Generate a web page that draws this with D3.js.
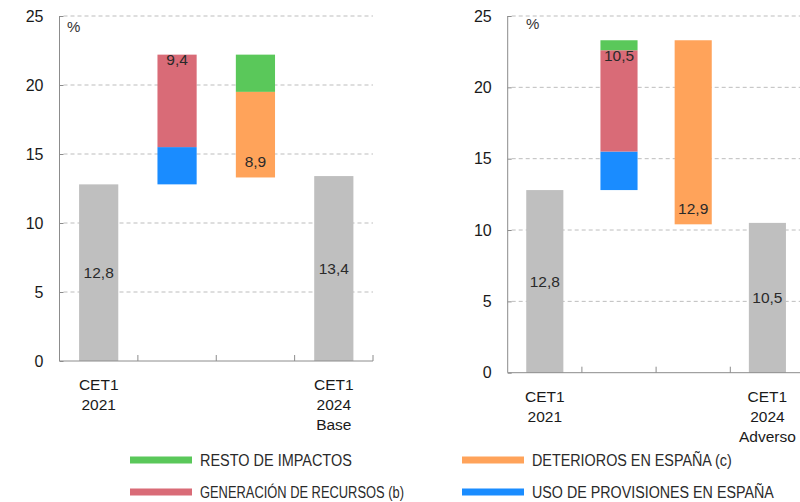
<!DOCTYPE html>
<html>
<head>
<meta charset="utf-8">
<script src="https://cdn.jsdelivr.net/npm/d3@7"></script>
<style>
  html, body { margin: 0; padding: 0; background: #fff; }
  svg { display: block; }
  text { font-family: "Liberation Sans", Arial, Helvetica, sans-serif; }
</style>
</head>
<body>
<svg id="chart" width="800" height="502"></svg>
<script>
// Scenario names and x-axis tick labels (lines split by "\n")
const scenarios = ["Base", "Adverso"];
const tickLabels = [
  ["CET1\n2021", "", "", "CET1\n2024\nBase"],
  ["CET1\n2021", "", "", "CET1\n2024\nAdverso"]
];
const yTicks = [0, 5, 10, 15, 20, 25];

// CET1 ratio (%) at start and end of the horizon, per scenario
const cet1Start = [12.8, 12.8];
const cet1End = [13.4, 10.5];

// Contributions (pp), in waterfall order; positives rise, negatives fall
const usoProvisiones = [2.7, 2.7];
const generacionRecursos = [6.7, 7.1];
const restoImpactos = [-2.7, 0.7];
const deterioros = [-6.2, -12.9];

const seriesNames = [
  "USO DE PROVISIONES EN ESPAÑA",
  "GENERACIÓN DE RECURSOS (b)",
  "RESTO DE IMPACTOS",
  "DETERIOROS EN ESPAÑA (c)"
];
const seriesValues = [usoProvisiones, generacionRecursos, restoImpactos, deterioros];
const seriesColors = ["#1a8cff", "#d96b77", "#5ac85a", "#ffa35a"];
const totalColor = "#bfbfbf";

// Legend layout: series index per row/column
const legendOrder = [[2, 3], [1, 0]];

const svg = d3.select("#chart");
svg.append("rect").attr("width", 800).attr("height", 502).attr("fill", "#fff");

const fmt = v => d3.format(".1f")(v).replace(".", ",");

// Panel geometry
const panels = [
  { x0: 59.5, x1: 373, y0: 361, y1: 16, pctX: 67, pctY: 27 },
  { x0: 507.7, x1: 804.5, y0: 372.7, y1: 16, pctX: 526, pctY: 24 }
];

panels.forEach((p, si) => {
  const g = svg.append("g");
  const x = d3.scaleBand().domain(d3.range(4)).range([p.x0, p.x1])
    .paddingInner(0.5).paddingOuter(0.25);
  const y = d3.scaleLinear().domain([0, 25]).range([p.y0, p.y1]);
  const step = x.step();

  // dashed gridlines
  g.append("g").selectAll("line").data(yTicks.filter(d => d > 0)).join("line")
    .attr("x1", p.x0 + 4).attr("x2", Math.min(p.x1, 800))
    .attr("y1", d => y(d)).attr("y2", d => y(d))
    .attr("stroke", "#bdbdbd").attr("stroke-width", 1)
    .attr("stroke-dasharray", "4,3");

  // waterfall segments
  let running = cet1Start[si];
  const segs = [];
  seriesValues.forEach((vals, k) => {
    const v = vals[si];
    const col = v >= 0 ? 1 : 2;
    segs.push({ col, a: running, b: running + v, color: seriesColors[k] });
    running += v;
  });

  // totals
  const totals = [
    { col: 0, v: cet1Start[si] },
    { col: 3, v: cet1End[si] }
  ];
  g.append("g").selectAll("rect").data(totals).join("rect")
    .attr("x", d => x(d.col)).attr("width", x.bandwidth())
    .attr("y", d => y(d.v)).attr("height", d => y(0) - y(d.v))
    .attr("fill", totalColor);

  g.append("g").selectAll("rect").data(segs).join("rect")
    .attr("x", d => x(d.col)).attr("width", x.bandwidth())
    .attr("y", d => y(Math.max(d.a, d.b)))
    .attr("height", d => Math.abs(y(d.a) - y(d.b)))
    .attr("fill", d => d.color);

  // value labels
  const lab = g.append("g").attr("font-size", 15.5).attr("fill", "#2a2a2a")
    .attr("text-anchor", "middle");
  totals.forEach(d => {
    lab.append("text").attr("x", x(d.col) + x.bandwidth() / 2)
      .attr("y", y(d.v / 2)).attr("dy", "0.35em").text(fmt(d.v));
  });
  const rise = d3.sum(segs.filter(s => s.col === 1), s => s.b - s.a);
  const fall = -d3.sum(segs.filter(s => s.col === 2), s => s.b - s.a);
  const genTop = cet1Start[si] + usoProvisiones[si] + generacionRecursos[si];
  lab.append("text").attr("x", x(1) + x.bandwidth() / 2)
    .attr("y", y(genTop) + 5).attr("dy", "0.35em").text(fmt(rise));
  lab.append("text").attr("x", x(2) + x.bandwidth() / 2)
    .attr("y", y(running) - 16).attr("dy", "0.35em").text(fmt(fall));

  // y axis
  const yAxis = d3.axisLeft(y).tickValues(yTicks).tickSize(-4).tickPadding(16)
    .tickFormat(d3.format("d"));
  const ya = g.append("g").attr("transform", `translate(${p.x0},0)`).call(yAxis);
  ya.select(".domain").attr("stroke", "#8c8c8c").attr("d", `M0,${p.y1}V${p.y0}`);
  ya.selectAll(".tick line").attr("stroke", "#8c8c8c");
  ya.selectAll(".tick text").attr("font-size", 16).attr("fill", "#1a1a1a")
    .attr("font-family", "'Liberation Sans', Arial, sans-serif");

  // x axis: baseline with upward ticks at category boundaries
  const xa = g.append("g");
  xa.append("line").attr("x1", p.x0).attr("x2", p.x1)
    .attr("y1", p.y0).attr("y2", p.y0).attr("stroke", "#8c8c8c");
  xa.selectAll("line.tk").data(d3.range(1, 5)).join("line").attr("class", "tk")
    .attr("x1", k => p.x0 + k * step).attr("x2", k => p.x0 + k * step)
    .attr("y1", p.y0).attr("y2", p.y0 - 6).attr("stroke", "#8c8c8c");

  tickLabels[si].forEach((t, k) => {
    if (!t) return;
    const tx = xa.append("text").attr("x", x(k) + x.bandwidth() / 2)
      .attr("y", p.y0 + 24).attr("text-anchor", "middle")
      .attr("font-size", 15.5).attr("fill", "#1a1a1a");
    t.split("\n").forEach((line, i) => {
      tx.append("tspan").attr("x", x(k) + x.bandwidth() / 2)
        .attr("dy", i === 0 ? "0.35em" : 20).text(line);
    });
  });

  // unit
  g.append("text").attr("x", p.pctX).attr("y", p.pctY).attr("dy", "0.35em")
    .attr("font-size", 15).attr("fill", "#333").text("%");
});

// legend (condensed lettering: each label squeezed horizontally to its width)
const legend = svg.append("g");
const legCols = [130, 462];
const legRows = [460, 492];
const legTextWidth = { 0: 242, 1: 204, 2: 152, 3: 200 };
legendOrder.forEach((row, r) => {
  row.forEach((k, c) => {
    legend.append("rect").attr("x", legCols[c]).attr("y", legRows[r] - 3.5)
      .attr("width", 62).attr("height", 7).attr("fill", seriesColors[k]);
    const t = legend.append("text")
      .attr("dy", "0.36em").attr("font-size", 16.5).attr("fill", "#2a2a2a")
      .text(seriesNames[k]);
    const natural = t.node().getComputedTextLength();
    const sx = legTextWidth[k] / natural;
    t.attr("transform", `translate(${legCols[c] + 70},${legRows[r]}) scale(${sx},1)`);
  });
});
</script>
</body>
</html>
